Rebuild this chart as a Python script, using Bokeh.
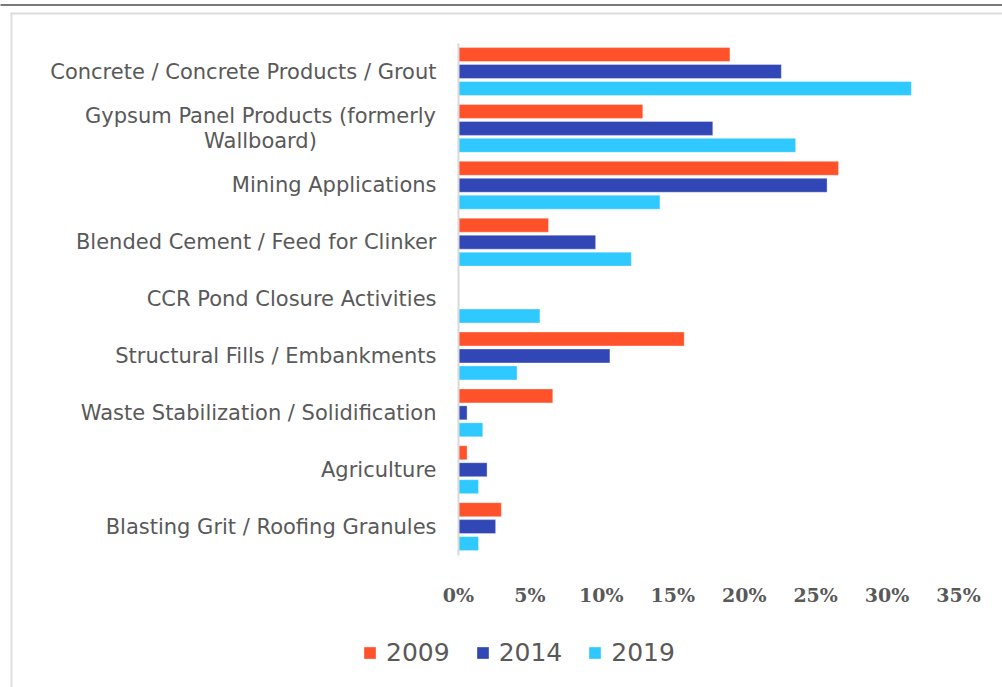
from bokeh.plotting import figure
from bokeh.models import (Range1d, ColumnDataSource, FixedTicker, LinearAxis,
                          PrintfTickFormatter, Legend, LegendItem, BoxAnnotation, Label)
from bokeh.transform import dodge
from bokeh.embed import file_html
from bokeh.resources import INLINE

categories = [
    "Concrete / Concrete Products / Grout",
    "Gypsum Panel Products (formerly\nWallboard)",
    "Mining Applications",
    "Blended Cement / Feed for Clinker",
    "CCR Pond Closure Activities",
    "Structural Fills / Embankments",
    "Waste Stabilization / Solidification",
    "Agriculture",
    "Blasting Grit / Roofing Granules",
]
v2009 = [19.0, 12.9, 26.6, 6.3, 0.0, 15.8, 6.6, 0.6, 3.0]
v2014 = [22.6, 17.8, 25.8, 9.6, 0.0, 10.6, 0.6, 2.0, 2.6]
v2019 = [31.7, 23.6, 14.1, 12.1, 5.7, 4.1, 1.7, 1.4, 1.4]
years = ["2009", "2014", "2019"]
colors = ["#FF522A", "#3147B5", "#2FC9FF"]
x_ticks = [0, 5, 10, 15, 20, 25, 30, 35]

TXT = "#595959"
W, H = 1002, 687
# frame spans the whole canvas; data ranges chosen so that 0..35 % sits at x 458..958 px
PX_PER_PCT = 500 / 35
PX_PER_CAT = 56.89
X0_PX, Y0_PX = 458, 71
x_start = -X0_PX / PX_PER_PCT
x_end = (W - X0_PX) / PX_PER_PCT
y_top = -Y0_PX / PX_PER_CAT
y_bottom = (H - Y0_PX) / PX_PER_CAT


def px_x(px):
    return (px - X0_PX) / PX_PER_PCT


def px_y(px):
    return (px - Y0_PX) / PX_PER_CAT


pos = list(range(len(categories)))
source = ColumnDataSource(dict(pos=pos, cat=categories, v2009=v2009, v2014=v2014, v2019=v2019))

p = figure(width=W, height=H, output_backend="svg", toolbar_location=None,
           x_range=Range1d(x_start, x_end), y_range=Range1d(y_bottom, y_top),
           x_axis_location=None, y_axis_location=None,
           min_border_left=0, min_border_right=0, min_border_top=0, min_border_bottom=0)
p.background_fill_color = "white"
p.border_fill_color = "white"
p.outline_line_color = None
p.xgrid.visible = False
p.ygrid.visible = False

offsets = [-0.298, 0.0, 0.298]
renderers = []
for yr, col, off in zip(years, colors, offsets):
    r = p.hbar(y=dodge("pos", off), left=0, right="v" + yr,
               height=0.246, source=source, fill_color=col,
               line_color="white", line_alpha=0.35, line_width=1)
    renderers.append(r)

n = len(categories)

# x axis (tick labels only) placed under the bars
xaxis = LinearAxis(fixed_location=n - 0.5, ticker=FixedTicker(ticks=x_ticks),
                   formatter=PrintfTickFormatter(format="%d%%"))
xaxis.axis_line_color = None
xaxis.major_tick_line_color = None
xaxis.minor_tick_line_color = None
xaxis.major_label_standoff = 23
xaxis.major_label_text_font = "DejaVu Serif"
xaxis.major_label_text_font_style = "bold"
xaxis.major_label_text_font_size = "19px"
xaxis.major_label_text_color = TXT
p.add_layout(xaxis, "below")

# y axis with category names (the two-line one is drawn centred below)
overrides = {i: c for i, c in zip(pos, categories)}
overrides[1] = ""
yaxis = LinearAxis(fixed_location=0, ticker=FixedTicker(ticks=pos),
                   major_label_overrides=overrides, bounds=(-0.5, n - 0.5))
yaxis.axis_line_color = "#d9d9d9"
yaxis.axis_line_width = 2
yaxis.major_tick_line_color = None
yaxis.minor_tick_line_color = None
yaxis.major_label_standoff = 16
yaxis.major_label_text_font = "DejaVu Sans"
yaxis.major_label_text_font_size = "21px"
yaxis.major_label_text_color = TXT
p.add_layout(yaxis, "left")

p.add_layout(Label(x=px_x(260), y=pos[1], text=categories[1],
                   text_align="center", text_baseline="middle", text_line_height=1.07,
                   text_font="DejaVu Sans", text_font_size="21px", text_color=TXT))

legend = Legend(items=[LegendItem(label=yr, renderers=[r]) for yr, r in zip(years, renderers)],
                location=(362, 20), orientation="horizontal",
                glyph_width=15, glyph_height=15, label_height=29, label_standoff=9, spacing=25,
                padding=0, margin=0, border_line_color=None, background_fill_alpha=0,
                label_text_font="DejaVu Sans", label_text_font_size="25px",
                label_text_color=TXT)
p.add_layout(legend)

# page decorations: dark top rule and light frame
p.add_layout(BoxAnnotation(left=px_x(-5), right=px_x(W + 5), top=px_y(3.5), bottom=px_y(5.5),
                           fill_color="#7a7a7a", fill_alpha=1, line_color=None))
p.add_layout(BoxAnnotation(left=px_x(10), right=px_x(W + 5), top=px_y(12), bottom=px_y(14),
                           fill_color="#dddddd", fill_alpha=1, line_color=None))
p.add_layout(BoxAnnotation(left=px_x(10), right=px_x(12), top=px_y(12), bottom=px_y(H + 5),
                           fill_color="#dddddd", fill_alpha=1, line_color=None))

open("out.html", "w").write(file_html(p, INLINE))
